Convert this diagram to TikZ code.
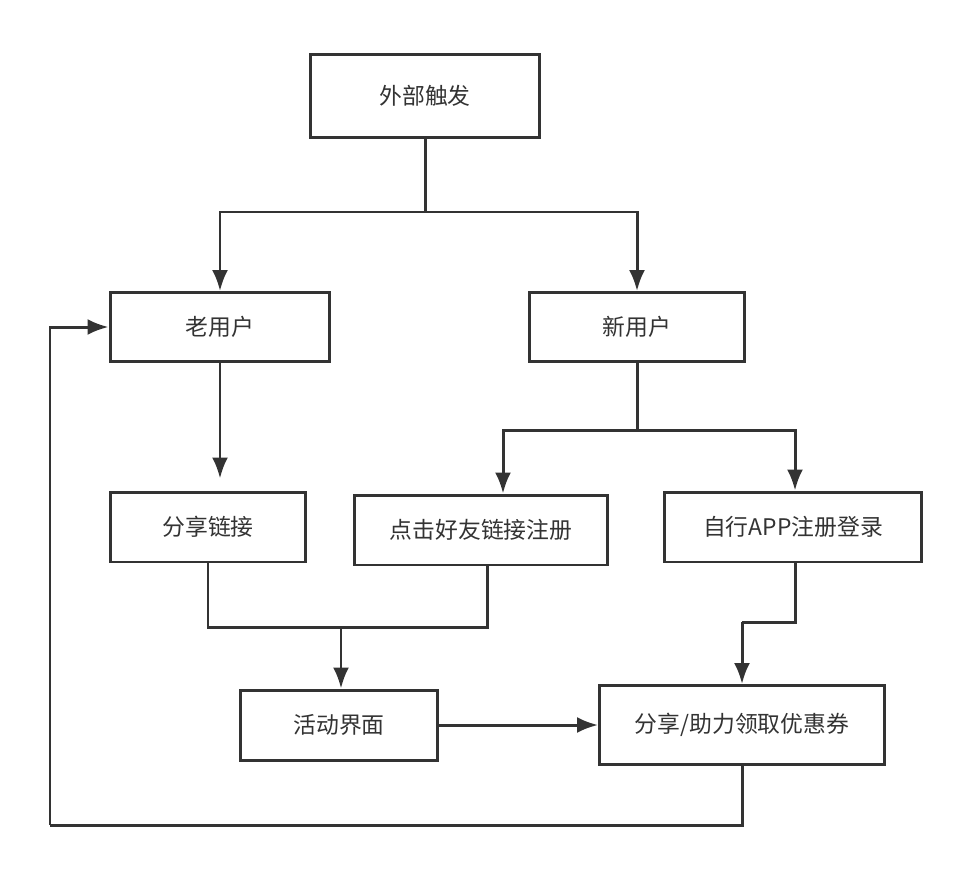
\documentclass[tikz,border=0pt]{standalone}
\usepackage{fontspec}
\setmainfont{Noto Sans CJK SC}
\usetikzlibrary{arrows.meta,calc}
\definecolor{linegray}{HTML}{333333}
\tikzset{>={Latex[length=4.2mm,width=3.2mm]}}
\tikzstyle{box}=[rectangle,draw=linegray,line width=1.7pt,inner sep=0pt,font=\fontsize{13}{15}\selectfont,text=linegray]
\tikzstyle{conn}=[draw=linegray,line width=1.7pt]

\begin{document}
\begin{tikzpicture}[x=0.02cm,y=-0.02cm]
	\useasboundingbox (0,0) rectangle (976,876);

	\node[box, minimum width=4.6cm, minimum height=1.66cm] (trigger) at (425,96) {外部触发};
	\node[box, minimum width=4.4cm, minimum height=1.38cm] (olduser) at (220,327) {老用户};
	\node[box, minimum width=4.3cm, minimum height=1.38cm] (newuser) at (637,327) {新用户};
	\node[box, minimum width=3.9cm, minimum height=1.4cm] (sharelink) at (208,527) {分享链接};
	\node[box, minimum width=5.06cm, minimum height=1.4cm] (clickreg) at (481,530) {点击好友链接注册};
	\node[box, minimum width=5.14cm, minimum height=1.4cm] (appreg) at (793,527) {自行APP注册登录};
	\node[box, minimum width=3.96cm, minimum height=1.4cm] (activity) at (339,725) {活动界面};
	\node[box, minimum width=5.7cm, minimum height=1.58cm] (coupon) at (742,725) {分享/助力领取优惠券};

	\coordinate (split1) at (425,212);
	\coordinate (split2) at (637,430);
	\coordinate (merge1) at (341,627);
	\coordinate (merge2) at (742,622);
	\coordinate (loop1) at (742,825);
	\coordinate (loop2) at (50,825);

	\draw[conn] (trigger.south) -- (split1);
	\draw[conn,->] (split1) -| (olduser.north);
	\draw[conn,->] (split1) -| (newuser.north);

	\draw[conn,->] (olduser.south) -- ($(sharelink.north)+(12,-12)$);

	\draw[conn] (newuser.south) -- (split2);
	\draw[conn,->] (split2) -| ($(clickreg.north)+(22,0)$);
	\draw[conn,->] (split2) -| ($(appreg.north)+(2,0)$);

	\draw[conn] (sharelink.south) |- (merge1);
	\draw[conn] (merge1) -| ($(clickreg.south)+(6,0)$);
	\draw[conn,->] (merge1) -- (activity.north -| merge1);

	\draw[conn] ($(appreg.south)+(2,0)$) |- (merge2);
	\draw[conn,->] (merge2) -- (coupon.north);

	\draw[conn,->] (activity.east) -- (coupon.west);

	\draw[conn] (coupon.south) -- (loop1) -- (loop2);
	\draw[conn,->] (loop2) |- (olduser.west);
\end{tikzpicture}
\end{document}
